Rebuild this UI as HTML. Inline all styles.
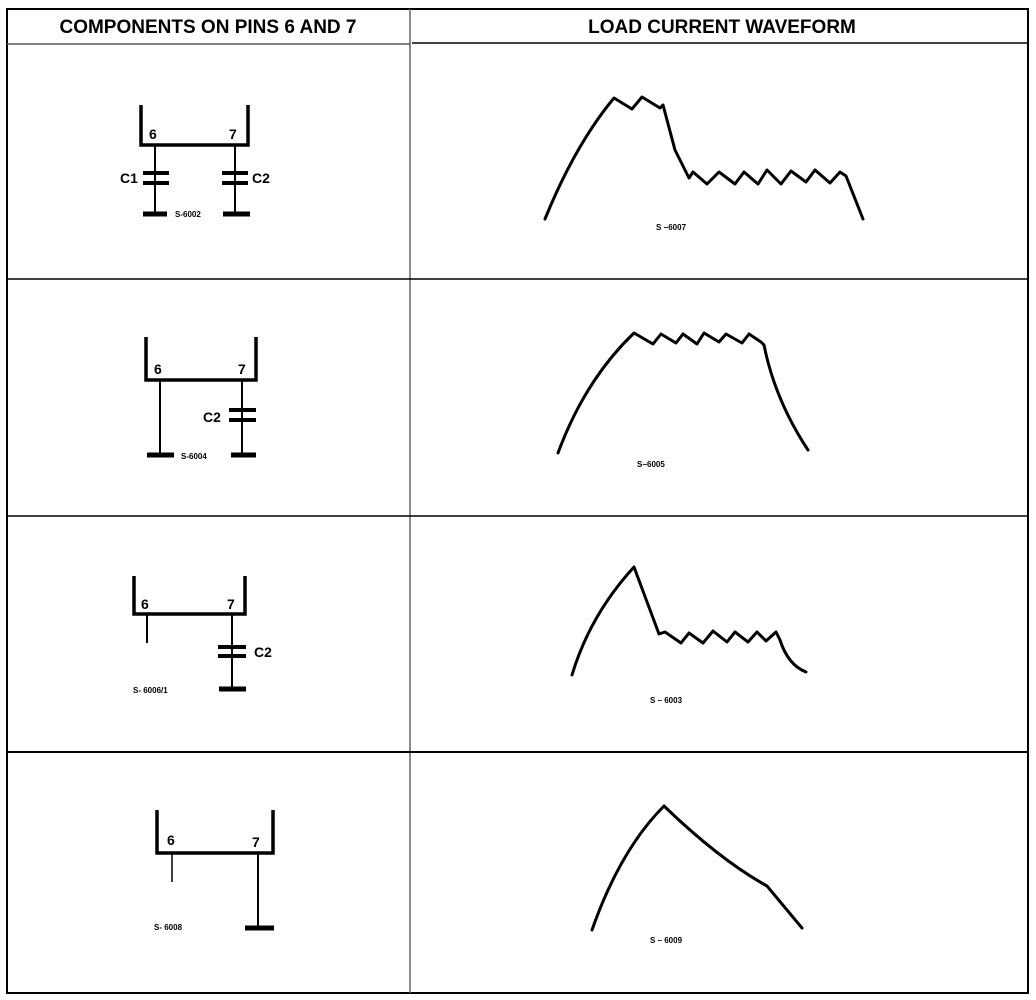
<!DOCTYPE html>
<html><head><meta charset="utf-8"><style>
html,body{margin:0;padding:0;background:#fff;width:1036px;height:1000px;overflow:hidden}
svg{display:block}
.h{font-family:"Liberation Sans",Arial,sans-serif;font-weight:bold;font-size:19px;fill:#000}
.p{font-family:"Liberation Sans",Arial,sans-serif;font-weight:bold;font-size:14px;fill:#000}
.s{font-family:"Liberation Sans",Arial,sans-serif;font-weight:bold;font-size:8px;fill:#000}
.w{fill:none;stroke:#000;stroke-width:3;stroke-linejoin:round;stroke-linecap:round}
</style></head><body>
<svg width="1036" height="1000" viewBox="0 0 1036 1000">
<g stroke="#000" fill="none">
<rect x="7" y="9" width="1021" height="984" stroke-width="2"/>
<line x1="410" y1="9" x2="410" y2="993" stroke="#666" stroke-width="1.5"/>
<line x1="7" y1="44" x2="410" y2="44" stroke="#555" stroke-width="1.5"/>
<line x1="412" y1="43" x2="1028" y2="43" stroke-width="1.5"/>
<line x1="7" y1="279" x2="1028" y2="279" stroke-width="1.5"/>
<line x1="7" y1="516" x2="1028" y2="516" stroke-width="1.5"/>
<line x1="7" y1="752" x2="1028" y2="752" stroke-width="2"/>
</g>
<text class="h" x="208" y="33" text-anchor="middle">COMPONENTS ON PINS 6 AND 7</text>
<text class="h" x="722" y="33" text-anchor="middle">LOAD CURRENT WAVEFORM</text>

<!-- circuit 1 -->
<g stroke="#000" fill="none">
<path d="M141 105 V145 H248 V105" stroke-width="3.5"/>
<line x1="155" y1="145" x2="155" y2="215" stroke-width="2"/>
<line x1="235" y1="145" x2="235" y2="215" stroke-width="2"/>
<line x1="143" y1="173" x2="169" y2="173" stroke-width="4"/>
<line x1="143" y1="183" x2="169" y2="183" stroke-width="4"/>
<line x1="222" y1="173" x2="248" y2="173" stroke-width="4"/>
<line x1="222" y1="183" x2="248" y2="183" stroke-width="4"/>
<line x1="143" y1="214" x2="167" y2="214" stroke-width="5"/>
<line x1="223" y1="214" x2="250" y2="214" stroke-width="5"/>
</g>
<text class="p" x="149" y="139">6</text><text class="p" x="229" y="139">7</text>
<text class="p" x="120" y="183">C1</text><text class="p" x="252" y="183">C2</text>
<text class="s" x="175" y="217">S-6002</text>

<!-- circuit 2 -->
<g stroke="#000" fill="none">
<path d="M146 337 V380 H256 V337" stroke-width="3.5"/>
<line x1="160" y1="380" x2="160" y2="455" stroke-width="2"/>
<line x1="242" y1="380" x2="242" y2="455" stroke-width="2"/>
<line x1="229" y1="410" x2="256" y2="410" stroke-width="4"/>
<line x1="229" y1="420" x2="256" y2="420" stroke-width="4"/>
<line x1="147" y1="455" x2="174" y2="455" stroke-width="5"/>
<line x1="231" y1="455" x2="256" y2="455" stroke-width="5"/>
</g>
<text class="p" x="154" y="374">6</text><text class="p" x="238" y="374">7</text>
<text class="p" x="203" y="422">C2</text>
<text class="s" x="181" y="459">S-6004</text>

<!-- circuit 3 -->
<g stroke="#000" fill="none">
<path d="M134 576 V614 H245 V576" stroke-width="3.5"/>
<line x1="147" y1="614" x2="147" y2="643" stroke-width="2"/>
<line x1="232" y1="614" x2="232" y2="690" stroke-width="2"/>
<line x1="218" y1="647" x2="246" y2="647" stroke-width="4"/>
<line x1="218" y1="656" x2="246" y2="656" stroke-width="4"/>
<line x1="219" y1="689" x2="246" y2="689" stroke-width="5"/>
</g>
<text class="p" x="141" y="609">6</text><text class="p" x="227" y="609">7</text>
<text class="p" x="254" y="657">C2</text>
<text class="s" x="133" y="693">S- 6006/1</text>

<!-- circuit 4 -->
<g stroke="#000" fill="none">
<path d="M157 810 V853 H273 V810" stroke-width="3.5"/>
<line x1="172" y1="853" x2="172" y2="882" stroke-width="1.5"/>
<line x1="258" y1="853" x2="258" y2="928" stroke-width="2"/>
<line x1="245" y1="928" x2="274" y2="928" stroke-width="5"/>
</g>
<text class="p" x="167" y="845">6</text><text class="p" x="252" y="847">7</text>
<text class="s" x="154" y="930">S- 6008</text>

<!-- waveforms -->
<path class="w" d="M545 219 Q575 145 614 98 L632 109 L642 97 L660 108 L663 105 L675 150 L689 178 L693 172 L707 184 L719 172 L735 184 L744 172 L758 184 L767 170 L781 184 L791 171 L806 182 L815 170 L830 183 L840 172 L846 176 L863 219"/>
<text class="s" x="656" y="230">S −6007</text>

<path class="w" d="M558 453 Q585 380 634 333 L653 344 L661 334 L676 343 L683 334 L697 344 L704 333 L719 342 L726 334 L742 343 L749 334 L761 342 L764 345 Q775 400 808 450"/>
<text class="s" x="637" y="467">S−6005</text>

<path class="w" d="M572 675 Q590 615 634 567 L659 634 L665 632 L681 643 L689 633 L703 643 L713 631 L727 642 L735 632 L748 642 L757 632 L766 641 L776 632 L780 640 Q788 665 806 672"/>
<text class="s" x="650" y="703">S – 6003</text>

<path class="w" d="M592 930 Q620 850 664 806 Q720 860 767 886 L802 928"/>
<text class="s" x="650" y="943">S – 6009</text>
</svg>
</body></html>
